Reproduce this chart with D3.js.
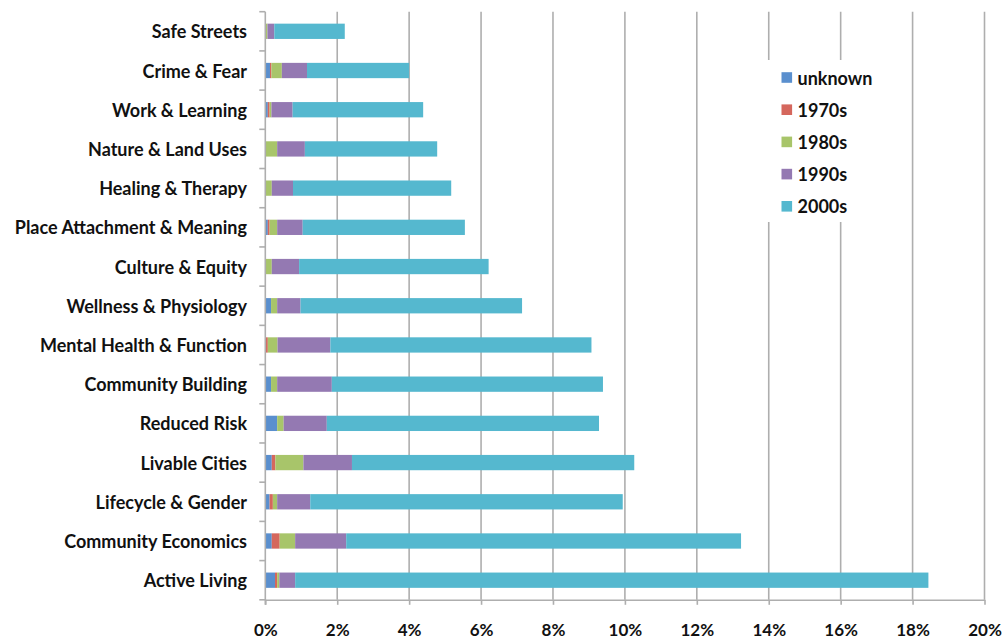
<!DOCTYPE html>
<html>
<head>
<meta charset="utf-8">
<script src="https://cdn.jsdelivr.net/npm/d3@7"></script>
<style>
  html, body { margin: 0; padding: 0; background: #fff; }
  svg { display: block; }
  text { font-family: "Lato", "Open Sans", sans-serif; font-weight: bold; fill: #111; }
</style>
</head>
<body>
<svg id="chart" width="1003" height="639"></svg>
<script>
// ---- data (percent) ----
const categories = [
  "Safe Streets", "Crime & Fear", "Work & Learning", "Nature & Land Uses",
  "Healing & Therapy", "Place Attachment & Meaning", "Culture & Equity",
  "Wellness & Physiology", "Mental Health & Function", "Community Building",
  "Reduced Risk", "Livable Cities", "Lifecycle & Gender", "Community Economics",
  "Active Living"
];
const seriesNames = ["unknown", "1970s", "1980s", "1990s", "2000s"];
const unknownVals = [0.00, 0.13, 0.07, 0.00, 0.00, 0.07, 0.00, 0.16, 0.00, 0.16, 0.33, 0.18, 0.12, 0.18, 0.27];
const s1970Vals   = [0.00, 0.04, 0.05, 0.00, 0.00, 0.05, 0.00, 0.00, 0.07, 0.00, 0.00, 0.10, 0.09, 0.22, 0.06];
const s1980Vals   = [0.06, 0.29, 0.05, 0.33, 0.18, 0.21, 0.18, 0.17, 0.27, 0.17, 0.18, 0.78, 0.12, 0.43, 0.06];
const s1990Vals   = [0.19, 0.70, 0.59, 0.77, 0.59, 0.71, 0.76, 0.65, 1.47, 1.52, 1.20, 1.35, 0.92, 1.42, 0.44];
const s2000Vals   = [1.96, 2.84, 3.63, 3.68, 4.40, 4.51, 5.27, 6.16, 7.26, 7.54, 7.57, 7.85, 8.69, 10.98, 17.61];
const xTicks = [0, 2, 4, 6, 8, 10, 12, 14, 16, 18, 20];
const colors = ["#5A8FCE", "#D5675D", "#A8C56A", "#9479B2", "#55B8CF"];

const rows = categories.map((c, i) => ({
  category: c,
  "unknown": unknownVals[i],
  "1970s": s1970Vals[i],
  "1980s": s1980Vals[i],
  "1990s": s1990Vals[i],
  "2000s": s2000Vals[i]
}));

// ---- layout ----
const svg = d3.select("#chart");
const plotLeft = 265.3, plotRight = 984.5, plotTop = 11.7, plotBottom = 599.8;

const x = d3.scaleLinear().domain([0, 20]).range([plotLeft, plotRight]);
const y = d3.scaleBand().domain(categories).range([plotTop, plotBottom]).paddingInner(0.61).paddingOuter(0.305);
const color = d3.scaleOrdinal().domain(seriesNames).range(colors);

const gridColor = "#aeaeae";

// vertical gridlines
svg.append("g").selectAll("line").data(xTicks.filter(d => d > 0)).join("line")
  .attr("x1", d => x(d)).attr("x2", d => x(d))
  .attr("y1", plotTop).attr("y2", plotBottom)
  .attr("stroke", gridColor).attr("stroke-width", 1.6);

// stacked bars
const stack = d3.stack().keys(seriesNames);
const stacked = stack(rows);
svg.append("g").selectAll("g").data(stacked).join("g")
  .attr("fill", d => color(d.key))
  .selectAll("rect").data(d => d).join("rect")
  .attr("x", d => x(d[0]))
  .attr("width", d => Math.max(0, x(d[1]) - x(d[0])))
  .attr("y", d => y(d.data.category))
  .attr("height", y.bandwidth());

// x axis
const xAxis = svg.append("g").attr("transform", `translate(0,${plotBottom})`)
  .call(d3.axisBottom(x).tickValues(xTicks).tickFormat(d => d + "%").tickSizeInner(5).tickSizeOuter(0).tickPadding(19));
xAxis.select(".domain").attr("stroke", gridColor).attr("stroke-width", 1.6);
xAxis.selectAll(".tick line").attr("stroke", gridColor).attr("stroke-width", 1.6);
xAxis.selectAll(".tick text").style("font-size", "17px").style("font-family", "Lato, 'Open Sans', sans-serif").style("font-weight", "bold").attr("fill", "#111");

// y axis: line with tick marks at category boundaries
const yAxisG = svg.append("g");
yAxisG.append("line").attr("x1", plotLeft).attr("x2", plotLeft).attr("y1", plotTop).attr("y2", plotBottom + 5)
  .attr("stroke", gridColor).attr("stroke-width", 1.6);
const step = y.step();
const boundaries = d3.range(categories.length + 1).map(i => plotTop + i * step);
yAxisG.selectAll("line.tk").data(boundaries).join("line").attr("class", "tk")
  .attr("x1", plotLeft - 6).attr("x2", plotLeft).attr("y1", d => d).attr("y2", d => d)
  .attr("stroke", gridColor).attr("stroke-width", 1.6);

// category labels
svg.append("g").selectAll("text").data(categories).join("text")
  .attr("x", 247).attr("y", d => y(d) + y.bandwidth() / 2)
  .attr("text-anchor", "end").attr("dominant-baseline", "central")
  .style("font-size", "18px")
  .text(d => d);

// legend
const lg = svg.append("g");
lg.append("rect").attr("x", 762).attr("y", 60).attr("width", 115).attr("height", 162).attr("fill", "#fff");
const legendY0 = 77.5, legendStep = 32.2;
const items = lg.selectAll("g.item").data(seriesNames).join("g").attr("class", "item")
  .attr("transform", (d, i) => `translate(781.5,${legendY0 + i * legendStep})`);
items.append("rect").attr("x", 0).attr("y", -5.3).attr("width", 10.6).attr("height", 10.6).attr("fill", d => color(d));
items.append("text").attr("x", 16).attr("y", 0).attr("dominant-baseline", "central")
  .style("font-size", "18px").text(d => d);
</script>
</body>
</html>
